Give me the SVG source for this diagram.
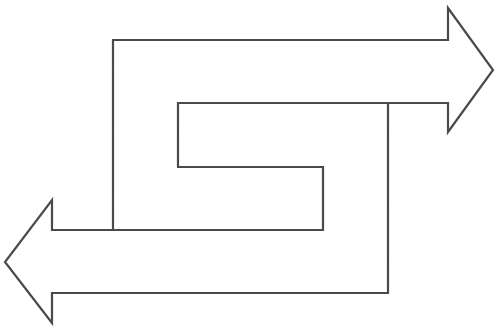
<svg xmlns="http://www.w3.org/2000/svg" width="495" height="331" viewBox="0 0 495 331">
<style>
.o{fill:none;stroke:#4a4a4a;stroke-width:2.2;stroke-linejoin:miter;stroke-linecap:square}
</style>
<rect width="495" height="331" fill="#fff"/>
<g id="arrows">
<path class="o" d="M113,230 V40 H448 V8 L493,70 L448,132 V103 H178 V167 H323 V230 H52 V200 L5,262 L52,323 V293 H388 V103"/>
</g>
</svg>
